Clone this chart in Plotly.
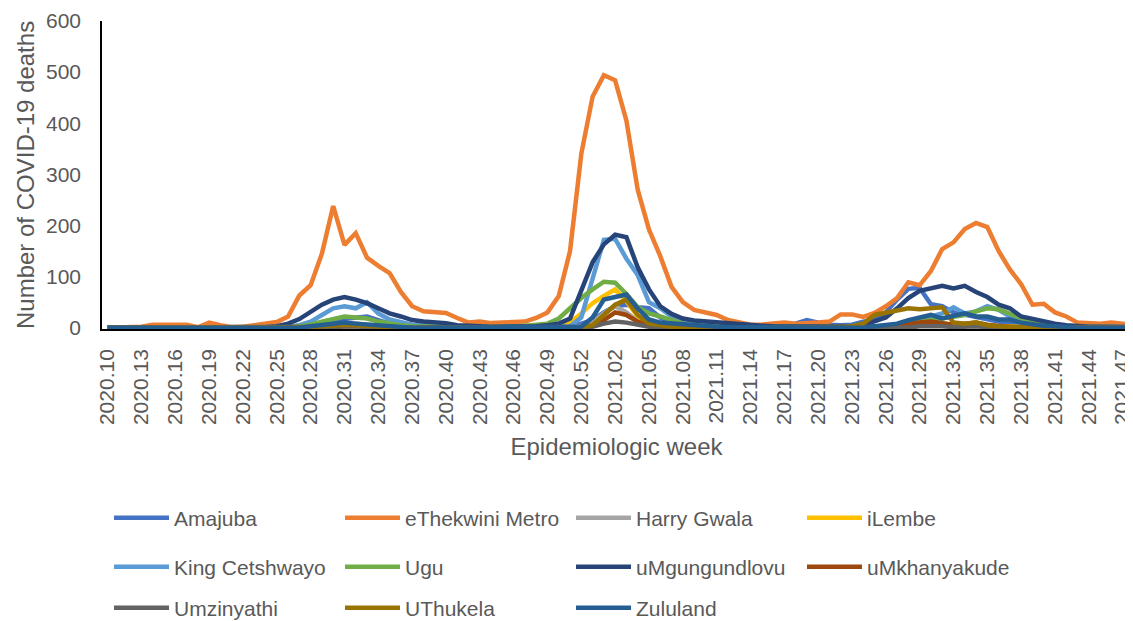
import plotly.graph_objects as go

# Categories: epidemiologic weeks
weeks = [f"2020.{w:02d}" for w in range(10, 54)] + [f"2021.{w:02d}" for w in range(1, 50)]
tick_labels = weeks[::3]

amajuba = [0,0,0,0,0,0,0,0,0,0,
           0,0,0,0,0,1,2,4,6,10,
           15,18,20,22,15,8,5,3,2,2,
           1,1,1,1,1,1,1,1,1,2,
           3,5,8,15,30,42,45,40,38,20,
           10,6,5,4,3,3,2,2,2,2,
           3,8,15,10,6,5,6,12,15,30,
           55,76,78,46,42,30,25,20,15,12,
           8,5,3,2,2,1,1,1,1,0,
           0,0,0]
ethekwini = [0,0,0,2,6,6,6,6,1,10,
             5,1,2,5,10,11,22,63,83,145,
             238,162,185,137,121,107,70,42,32,30,
             29,19,10,12,9,10,11,12,19,30,
             62,150,340,452,494,484,405,270,192,140,
             80,50,35,30,25,15,10,6,6,8,
             10,8,8,10,12,26,26,21,29,42,
             58,89,83,111,154,167,193,205,197,150,
             114,85,45,47,30,22,10,8,8,10,
             8,4,3]
harry_gwala = [0,0,0,0,0,0,0,0,0,0,
               0,0,0,0,0,0,0,1,2,4,
               6,8,8,6,4,2,1,1,0,0,
               0,0,0,0,0,0,0,0,1,1,
               2,2,3,10,28,42,30,12,5,3,
               2,1,1,1,0,0,0,0,0,0,
               0,0,0,0,0,1,1,2,2,3,
               5,8,10,8,6,5,4,3,2,1,
               1,0,0,0,0,0,0,0,0,0,
               0,0,0]
ilembe = [0,0,0,0,0,0,0,0,0,0,
          0,0,0,0,0,0,0,0,1,3,
          5,6,5,4,3,2,1,1,0,0,
          0,0,0,0,0,0,0,1,1,2,
          3,10,28,48,62,75,52,22,10,5,
          3,2,1,1,0,0,0,0,0,0,
          0,0,0,0,0,0,0,1,1,1,
          2,4,6,5,8,6,5,6,4,2,
          1,1,0,0,0,0,0,0,0,0,
          0,0,0]
king_cetshwayo = [0,0,0,0,0,0,0,0,0,0,
                  0,0,0,0,0,0,1,5,12,25,
                  38,42,38,50,28,16,10,6,5,4,
                  3,2,2,1,1,1,1,1,2,2,
                  2,3,20,95,172,174,135,103,50,38,
                  22,12,8,5,4,3,2,2,2,2,
                  2,2,2,2,2,2,2,2,2,3,
                  5,10,15,22,28,40,28,32,42,35,
                  22,12,8,5,3,2,2,1,1,1,
                  1,1,1]
ugu = [0,0,0,0,0,0,0,0,0,0,
       0,0,0,0,0,0,1,3,6,12,
       18,22,20,18,12,8,5,3,2,2,
       1,1,1,1,1,1,2,4,6,8,
       18,38,58,75,90,88,66,40,28,22,
       15,8,5,3,3,2,2,2,1,1,
       1,1,1,1,1,1,2,2,2,3,
       5,8,12,15,18,20,25,32,38,36,
       28,20,10,6,4,3,2,2,1,1,
       1,1,1]
umgungundlovu = [0,0,0,0,0,0,0,0,0,0,
                 0,0,0,0,1,3,8,17,30,45,
                 55,60,55,48,38,28,22,15,12,11,
                 9,5,3,3,2,2,2,3,3,5,
                 8,18,72,128,163,182,177,118,75,42,
                 27,18,14,12,10,9,6,5,4,3,
                 3,3,2,2,2,2,2,5,12,20,
                 38,58,72,78,82,77,82,70,60,45,
                 38,22,17,12,8,5,3,2,2,2,
                 1,1,1]
umkhanyakude = [0,0,0,0,0,0,0,0,0,0,
                0,0,0,0,0,0,0,0,0,0,
                0,3,4,3,1,0,0,0,0,0,
                0,0,0,0,0,0,0,0,0,0,
                0,0,0,3,15,30,25,12,5,2,
                1,0,0,0,0,0,0,0,0,0,
                0,0,0,0,0,0,0,0,0,2,
                4,8,10,12,10,6,8,10,6,3,
                1,0,0,0,0,0,0,0,0,0,
                0,0,0]
umzinyathi = [0,0,0,0,0,0,0,0,0,0,
              0,0,0,0,0,0,0,0,0,0,
              2,3,2,1,0,0,0,0,0,0,
              0,0,0,0,0,0,0,0,0,0,
              0,0,0,2,8,12,10,5,2,0,
              0,0,0,0,0,0,0,0,0,0,
              0,0,0,0,0,0,0,0,0,0,
              0,0,3,4,3,1,2,3,1,0,
              0,0,0,0,0,0,0,0,0,0,
              0,0,0]
uthukela = [0,0,0,0,0,0,0,0,0,0,
            0,0,0,0,0,0,0,0,1,3,
            5,6,5,3,2,1,0,0,0,0,
            0,0,0,0,0,0,0,0,0,0,
            0,0,1,5,25,45,55,25,8,4,
            2,1,0,0,0,0,0,0,0,0,
            0,0,0,0,0,0,3,8,25,30,
            35,38,36,38,40,10,8,10,5,3,
            1,1,0,0,0,0,0,0,0,0,
            0,0,0]
zululand = [0,0,0,0,0,0,0,0,0,0,
            0,0,0,0,0,0,0,0,3,5,
            8,10,8,6,4,3,1,0,0,0,
            0,0,0,0,0,0,0,0,0,0,
            0,0,2,20,55,60,65,38,16,10,
            8,6,5,4,2,1,1,0,0,0,
            0,0,0,0,0,0,0,0,3,5,
            8,15,20,25,18,22,28,22,22,16,
            16,10,6,4,3,1,0,0,0,0,
            0,0,0]

series = [
    ("Amajuba", amajuba, "#4472C4", "legend"),
    ("eThekwini Metro", ethekwini, "#ED7D31", "legend"),
    ("Harry Gwala", harry_gwala, "#A5A5A5", "legend"),
    ("iLembe", ilembe, "#FFC000", "legend"),
    ("King Cetshwayo", king_cetshwayo, "#5B9BD5", "legend2"),
    ("Ugu", ugu, "#70AD47", "legend2"),
    ("uMgungundlovu", umgungundlovu, "#264478", "legend2"),
    ("uMkhanyakude", umkhanyakude, "#9E480E", "legend2"),
    ("Umzinyathi", umzinyathi, "#636363", "legend3"),
    ("UThukela", uthukela, "#997300", "legend3"),
    ("Zululand", zululand, "#255E91", "legend3"),
]

fig = go.Figure()
for name, vals, color, leg in series:
    fig.add_trace(go.Scatter(x=weeks, y=vals, mode="lines", name=name,
                             line=dict(color=color, width=4.5), legend=leg))

FONT = "Liberation Sans"
GREY = "#595959"
# the page body adds an 8px offset; the figure is sized to fill the rest of the window
W, H, OFF = 1125, 613, 8

def legend_cfg(ypix):
    return dict(orientation="h", xref="container", yref="container",
                x=(109 - OFF) / W, y=1 - (ypix - OFF) / H, xanchor="left", yanchor="middle",
                entrywidth=161, entrywidthmode="pixels", itemwidth=55,
                font=dict(family=FONT, size=21, color=GREY),
                bgcolor="rgba(0,0,0,0)", traceorder="normal")

fig.update_layout(
    width=W, height=H,
    margin=dict(l=94, r=0, t=13, b=292),
    paper_bgcolor="white", plot_bgcolor="white",
    font=dict(family=FONT, color=GREY),
    showlegend=True,
    xaxis=dict(type="category", categoryorder="array", categoryarray=weeks,
               range=[-0.5, 90.74], tickmode="array", tickvals=tick_labels,
               tickangle=-90, tickfont=dict(size=21, color=GREY),
               showline=True, linecolor="black", linewidth=1.5,
               layer="below traces", showgrid=False, zeroline=False, ticks="",
               ticklabelstandoff=10,
               title=dict(text="Epidemiologic week", font=dict(size=24, color=GREY), standoff=14)),
    yaxis=dict(range=[-2.5, 600], tickmode="array", tickvals=[0, 100, 200, 300, 400, 500, 600],
               tickfont=dict(size=21, color=GREY),
               showline=True, linecolor="black", linewidth=1.5,
               layer="below traces", showgrid=False, zeroline=False, ticks="",
               ticklabelstandoff=15),
    annotations=[dict(text="Number of COVID-19 deaths", textangle=-90,
                      xref="paper", yref="paper", x=0, y=0.5,
                      xanchor="center", yanchor="middle", xshift=-77, showarrow=False,
                      font=dict(family=FONT, size=24, color=GREY))],
    legend=legend_cfg(518),
    legend2=legend_cfg(567),
    legend3=legend_cfg(608),
)

fig.write_html("out.html")
